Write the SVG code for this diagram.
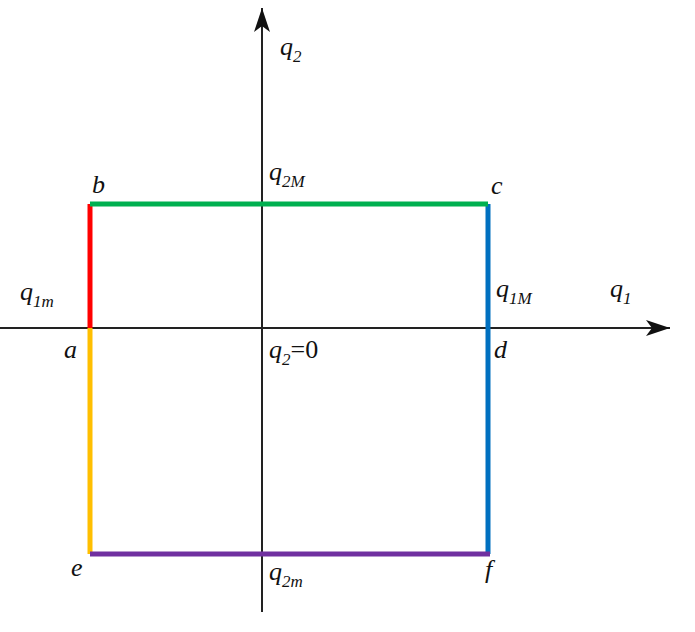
<svg xmlns="http://www.w3.org/2000/svg" width="695" height="632" viewBox="0 0 695 632">
<style>
.lbl{font-family:"Liberation Serif","DejaVu Serif",serif;font-style:italic;font-size:26px;fill:#111}
.sub{font-size:17px}
.ax{stroke:#222;stroke-width:2;fill:none}
.edge{stroke-width:5;fill:none}
</style>
<defs>
<marker id="arr" viewBox="0 0 24 16" refX="24" refY="8" markerWidth="24" markerHeight="16" markerUnits="userSpaceOnUse" orient="auto">
<path d="M0,0 L24,8 L0,16 L6,8 Z" fill="#111"/>
</marker>
</defs>
<rect width="695" height="632" fill="#ffffff"/>
<g id="axes">
<line id="axis-q1" class="ax" x1="0" y1="328" x2="670" y2="328" marker-end="url(#arr)"/>
<line id="axis-q2" class="ax" x1="262" y1="612" x2="262" y2="8" marker-end="url(#arr)"/>
</g>
<g id="connectors">
<line id="edge-ba" class="edge" stroke="#ff0000" x1="90" y1="204" x2="90" y2="328"/>
<line id="edge-ae" class="edge" stroke="#ffbf00" x1="90" y1="328" x2="90" y2="554"/>
<line id="edge-cf" class="edge" stroke="#0070c0" x1="488" y1="204" x2="488" y2="554"/>
<line id="edge-bc" class="edge" stroke="#00b050" x1="90" y1="204" x2="488" y2="204"/>
<line id="edge-ef" class="edge" stroke="#7030a0" x1="90" y1="554" x2="490" y2="554"/>
</g>
<g id="node-b"><text class="lbl" x="92" y="193">b</text></g>
<g id="node-c"><text class="lbl" x="491" y="194">c</text></g>
<g id="node-a"><text class="lbl" x="64" y="358">a</text></g>
<g id="node-d"><text class="lbl" x="494" y="358">d</text></g>
<g id="node-e"><text class="lbl" x="71" y="576">e</text></g>
<g id="node-f"><text class="lbl" x="485" y="578">f</text></g>
<g id="label-q2"><text class="lbl" x="280" y="55">q<tspan class="sub" dy="7">2</tspan></text></g>
<g id="label-q1"><text class="lbl" x="610" y="297">q<tspan class="sub" dy="7">1</tspan></text></g>
<g id="label-q2M"><text class="lbl" x="269" y="180">q<tspan class="sub" dy="7">2M</tspan></text></g>
<g id="label-q1m"><text class="lbl" x="20" y="300">q<tspan class="sub" dy="7">1m</tspan></text></g>
<g id="label-q1M"><text class="lbl" x="496" y="297">q<tspan class="sub" dy="7">1M</tspan></text></g>
<g id="label-q2zero"><text class="lbl" x="269" y="358">q<tspan class="sub" dy="7">2</tspan><tspan dy="-7" font-style="normal">=0</tspan></text></g>
<g id="label-q2m"><text class="lbl" x="269" y="580">q<tspan class="sub" dy="7">2m</tspan></text></g>
</svg>
